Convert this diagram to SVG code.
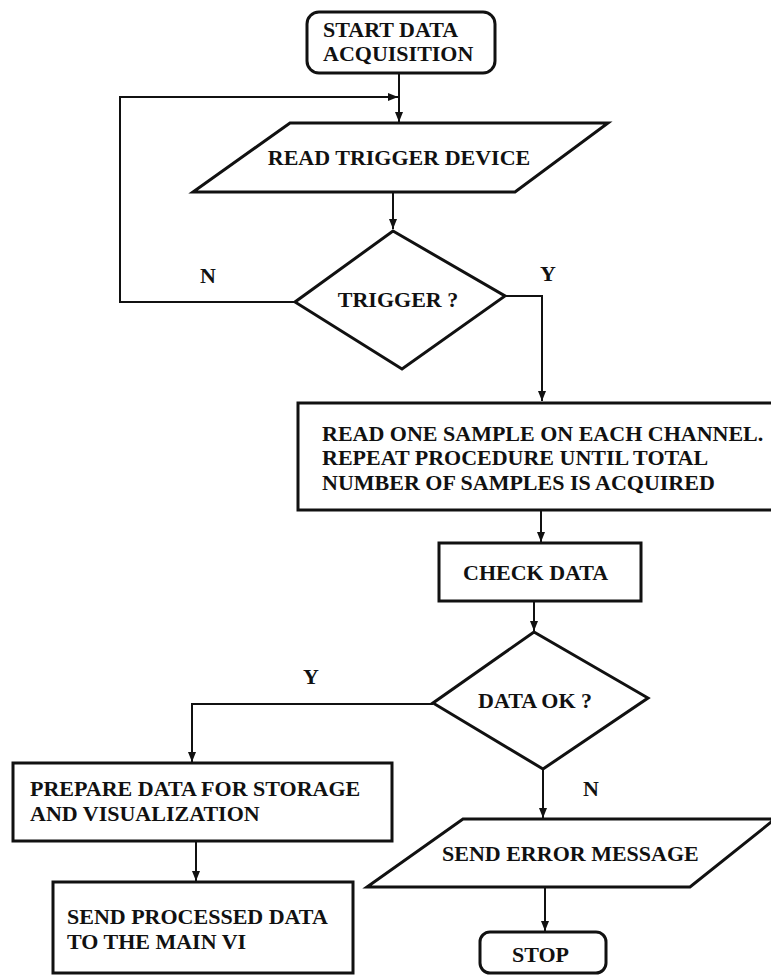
<svg xmlns="http://www.w3.org/2000/svg" width="771" height="975" viewBox="0 0 771 975">
<style>
.s{fill:#fff;stroke:#111;stroke-width:3;stroke-linejoin:miter}
.c{fill:none;stroke:#111;stroke-width:2}
text{font-family:"Liberation Serif","Times New Roman",serif;font-weight:bold;font-size:22px;fill:#111}
.m{text-anchor:middle}
</style>
<defs>
<marker id="ah" viewBox="0 0 10 10" refX="10" refY="5" markerWidth="10" markerHeight="10" markerUnits="userSpaceOnUse" orient="auto">
<path d="M0,1 L10,5 L0,9 z" fill="#111"/>
</marker>
</defs>
<rect width="771" height="975" fill="#fff"/>
<g id="connectors">
<path class="c" d="M399,73 L399,122" marker-end="url(#ah)"/>
<path class="c" d="M295,302 L120,302 L120,97 L398,97" marker-end="url(#ah)"/>
<path class="c" d="M393,192 L393,229" marker-end="url(#ah)"/>
<path class="c" d="M505,296 L542,296 L542,401" marker-end="url(#ah)"/>
<path class="c" d="M541,510 L541,542" marker-end="url(#ah)"/>
<path class="c" d="M534,601 L534,631" marker-end="url(#ah)"/>
<path class="c" d="M433,704 L192,704 L192,762" marker-end="url(#ah)"/>
<path class="c" d="M543,769 L543,818" marker-end="url(#ah)"/>
<path class="c" d="M196,841 L196,881" marker-end="url(#ah)"/>
<path class="c" d="M545,887 L545,931" marker-end="url(#ah)"/>
<text x="200" y="283">N</text>
<text x="540" y="281">Y</text>
<text x="303" y="684">Y</text>
<text x="583" y="796">N</text>
</g>
<g id="start">
<rect class="s" x="307" y="12" width="188" height="61" rx="12"/>
<text x="323" y="36.5">START DATA</text>
<text x="323" y="61">ACQUISITION</text>
</g>
<g id="read-trigger">
<polygon class="s" points="290,123 608,123 515,192 193,192"/>
<text class="m" x="399" y="165">READ TRIGGER DEVICE</text>
</g>
<g id="trigger">
<polygon class="s" points="393,231 505,296 402,369 295,302"/>
<text class="m" x="398" y="307">TRIGGER ?</text>
</g>
<g id="read-samples">
<rect class="s" x="298" y="403" width="480" height="107"/>
<text x="322" y="440.5">READ ONE SAMPLE ON EACH CHANNEL.</text>
<text x="322" y="465">REPEAT PROCEDURE UNTIL TOTAL</text>
<text x="322" y="489.5">NUMBER OF SAMPLES IS ACQUIRED</text>
</g>
<g id="check-data">
<rect class="s" x="439" y="543" width="202" height="58"/>
<text x="463" y="580">CHECK DATA</text>
</g>
<g id="data-ok">
<polygon class="s" points="534,632 648,698 543,769 433,703"/>
<text x="478" y="708">DATA OK ?</text>
</g>
<g id="prepare">
<rect class="s" x="13" y="763" width="379" height="78"/>
<text x="30" y="796">PREPARE DATA FOR STORAGE</text>
<text x="30" y="820.5">AND VISUALIZATION</text>
</g>
<g id="send-processed">
<rect class="s" x="53" y="882" width="300" height="91"/>
<text x="67" y="924">SEND PROCESSED DATA</text>
<text x="67" y="948.5">TO THE MAIN VI</text>
</g>
<g id="send-error">
<polygon class="s" points="463,819 775,819 690,887 367,887"/>
<text x="442" y="861">SEND ERROR MESSAGE</text>
</g>
<g id="stop">
<rect class="s" x="480" y="932" width="126" height="41" rx="10"/>
<text x="512" y="962">STOP</text>
</g>
</svg>
